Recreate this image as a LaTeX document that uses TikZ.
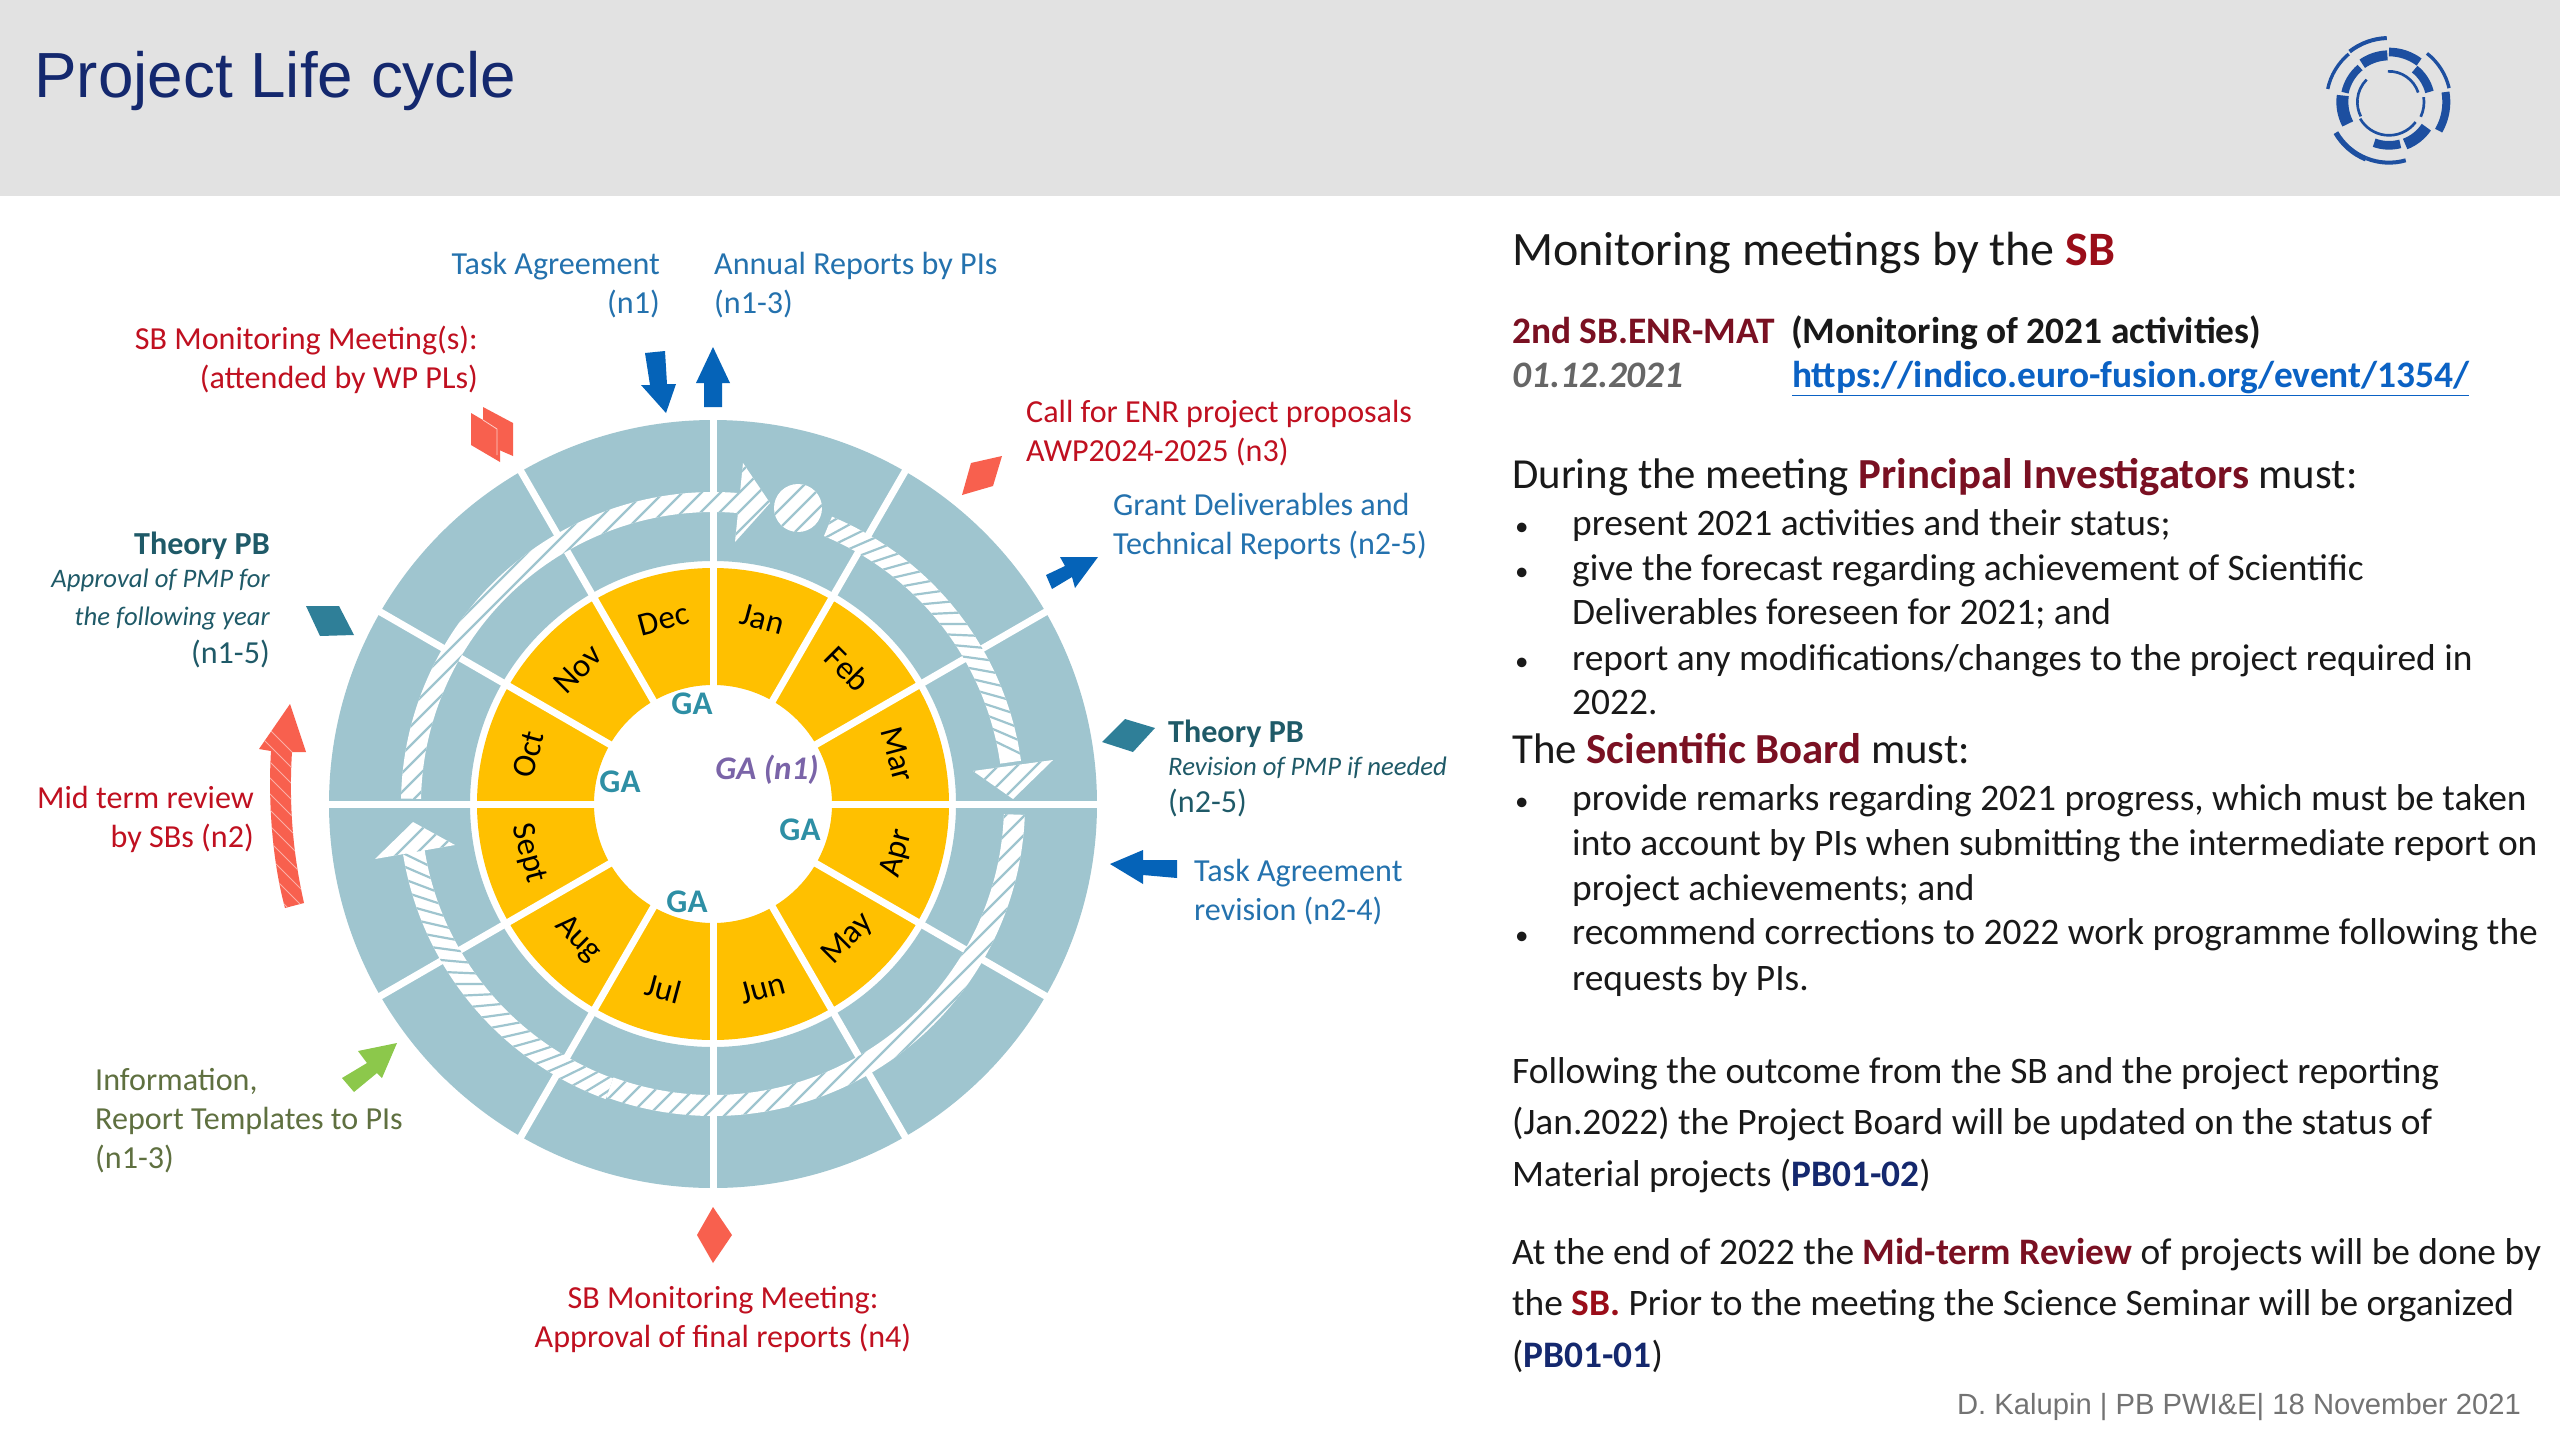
\documentclass[tikz,border=0pt]{standalone}
\usepackage{fontspec}
\setmainfont{Carlito}
\newfontfamily\arial{Liberation Sans}
\definecolor{ringc}{HTML}{9FC5CF}
\definecolor{goldc}{HTML}{FFC000}
\definecolor{salmon}{HTML}{F8604E}
\definecolor{arrowb}{HTML}{0563B8}
\definecolor{labb}{HTML}{2472AE}
\definecolor{labr}{HTML}{C01020}
\definecolor{labt}{HTML}{1F5A68}
\definecolor{labo}{HTML}{5F7040}
\definecolor{tealp}{HTML}{2F7F98}
\definecolor{gac}{HTML}{2E8FA5}
\definecolor{gap}{HTML}{7A64A8}
\definecolor{darkr}{HTML}{7A1022}
\definecolor{navy}{HTML}{14286E}
\definecolor{logoc}{HTML}{1D4FA0}
\definecolor{headg}{HTML}{E2E2E2}
\definecolor{linkc}{HTML}{0B62C4}
\definecolor{greena}{HTML}{8CC84B}
\newcommand{\dr}[1]{\textbf{\textcolor{darkr}{#1}}}
\newcommand{\nv}[1]{\textbf{\textcolor{navy}{#1}}}
\newcommand{\sect}[4]{([shift={(#1:#3)}]c) arc[start angle=#1,end angle=#2,radius=#3] -- ([shift={(#2:#4)}]c) arc[start angle=#2,end angle=#1,radius=#4] -- cycle}
\newcommand{\hatchne}{\foreach \d in {-30,...,30}{\draw[hatchl] ($(c)+(\d*19-500,-500)$) -- ($(c)+(\d*19+500,500)$);}}
\newcommand{\hatchra}[3]{\foreach \a in {#1,#2,...,#3}{\draw[hatchl] ([shift={(\a+6:280)}]c) -- ([shift={(\a:322)}]c);}}
\newcommand{\lab}[7]{\node[lbl,anchor=#2,align=#3,text=#6] (#1) at (#4,-#5+22.5) {\rule{0pt}{24pt}#7};}
\newcommand{\bodyline}[4]{\node[bodyt,anchor=base west] (#1) at (#2,-#3-1.5) {#4};}
\newcommand{\bul}[2]{\node[bulletdot,anchor=base west] (#1) at (1512,-#2-1.5) {\hspace*{3pt}•};}
\newcommand{\logoarc}[4]{\draw[logoarcs,line width=#4/3] ([shift={(#1:#3/3)}]logo) arc[start angle=#1,end angle=#2,radius=#3/3];}
\usetikzlibrary{calc}
\tikzset{
 lbl/.style={inner sep=0pt,font=\fontsize{32.1}{39}\selectfont},
 itl/.style={inner sep=0pt,font=\fontsize{26.7}{38}\selectfont\itshape},
 month/.style={inner sep=0pt,font=\fontsize{33}{38}\selectfont,text=black},
 ga/.style={inner sep=0pt,font=\fontsize{33}{38}\selectfont\bfseries,text=gac},
 bodyt/.style={inner sep=0pt,font=\fontsize{37.4}{44}\selectfont,text=black!90},
 bulletdot/.style={inner sep=0pt,font=\fontsize{27}{44}\selectfont,text=black!90},
 bodyl/.style={inner sep=0pt,font=\fontsize{42.8}{48}\selectfont,text=black!90},
 hatchl/.style={draw=ringc,line width=2.2pt},
 spoke/.style={draw=white,line width=7pt},
 redmark/.style={fill=salmon},
 tealmark/.style={fill=tealp},
 barrow/.style={fill=arrowb},
 logoarcs/.style={draw=logoc,line cap=butt},
}
\begin{document}
\begin{tikzpicture}[x=1pt,y=1pt]
\useasboundingbox (0,-1440) rectangle (2560,0);
\fill[white] (0,-1440) rectangle (2560,0);
\fill[headg] (0,-196) rectangle (2560,0);
\node[inner sep=0pt,anchor=base west,font=\fontsize{63.8}{70}\selectfont\arial,text=navy] (title) at (34,-97) {Project Life cycle};
% logo
\coordinate (logo) at (2389,-102);
\logoarc{92}{128}{192}{12}
\logoarc{130}{168}{188}{10}
\logoarc{52}{13}{185}{10}
\logoarc{10}{-30}{172}{24}
\logoarc{210}{248}{184}{16}
\logoarc{248}{286}{182}{12}
\logoarc{90}{53}{150}{26}
\logoarc{52}{14}{125}{26}
\logoarc{92}{125}{140}{30}
\logoarc{130}{168}{135}{22}
\logoarc{172}{208}{140}{36}
\logoarc{250}{285}{130}{26}
\logoarc{291}{326}{135}{34}
\logoarc{92}{18}{92}{8}
\logoarc{135}{175}{95}{8}
\logoarc{8}{-25}{105}{8}
\logoarc{-37}{-150}{100}{8}
\logoarc{175}{207}{95}{8}
% wheel
\coordinate (c) at (713,-804);
\fill[ringc,even odd rule] (c) circle[radius=384] (c) circle[radius=243];
\fill[goldc,even odd rule] (c) circle[radius=236] (c) circle[radius=119];
\foreach \a in {0,30,...,330}{\draw[spoke] ([shift={(\a:112)}]c) -- ([shift={(\a:392)}]c);}
% hatched flow
\fill[white] \sect{179}{85}{312}{292};
\begin{scope}\clip \sect{179}{85}{312}{292};\hatchne\end{scope}
\fill[white] (743,-463) -- (770,-503) -- (735,-542) -- cycle;
\begin{scope}\clip (743,-463) -- (770,-503) -- (735,-542) -- cycle;\hatchne\end{scope}
\node[circle,fill=white,minimum size=48pt,inner sep=0pt] (stage) at (798,-508) {};
\begin{scope}\clip (798,-508) circle[radius=24];\hatchne\end{scope}
\fill[white] \sect{67.5}{8}{311}{290};
\begin{scope}\clip \sect{67.5}{8}{311}{290};\hatchra{8}{10.6}{70}\end{scope}
\fill[white] (973,-771) -- (1013,-799) -- (1053,-760) -- cycle;
\begin{scope}\clip (973,-771) -- (1013,-799) -- (1053,-760) -- cycle;\hatchne\end{scope}
\fill[white] \sect{-2}{-110}{312}{291};
\begin{scope}\clip \sect{-2}{-110}{312}{291};\hatchne\end{scope}
\fill[white] \sect{-110}{-171}{314}{292};
\begin{scope}\clip \sect{-110}{-171}{314}{292};\hatchra{-172}{-169.4}{-108}\end{scope}
\fill[white] (375,-859) -- (413,-822) -- (455,-845) -- cycle;
\begin{scope}\clip (375,-859) -- (413,-822) -- (455,-845) -- cycle;\hatchne\end{scope}
% months
\foreach \n/\a/\r in {Jan/75/-15,Feb/45/-45,Mar/15/-75,Apr/-15/75,May/-45/45,Jun/-75/15,Jul/-105/-15,Aug/-135/-45,Sept/-165/-75,Oct/165/75,Nov/135/45,Dec/105/15}{
 \node[month,rotate=\r] (m\n) at ([shift={(\a:191)}]c) {\n};
}
\node[ga] (ga1) at (692,-704) {GA};
\node[ga] (ga2) at (620,-782) {GA};
\node[ga] (ga3) at (800,-830) {GA};
\node[ga] (ga4) at (687,-902) {GA};
\node[ga,text=gap,font=\fontsize{33}{38}\selectfont\bfseries\itshape] (ga5) at (767,-770) {GA (n1)};
% symbols
\fill[barrow] (645,-353) -- (665,-351) -- (667,-384) -- (676,-384) -- (666,-413) -- (641,-385) -- (650,-385) -- cycle;
\fill[barrow] (713,-347) -- (730,-383) -- (722,-383) -- (722,-407) -- (704,-407) -- (704,-383) -- (696,-383) -- cycle;
\fill[redmark] (483,-407) -- (513,-423) -- (513,-456) -- (483,-443) -- cycle;
\fill[redmark] (471,-413) -- (500,-430) -- (500,-462) -- (471,-445) -- cycle;
\draw[white!70!salmon,line width=.8pt] (483,-420) -- (497,-429) -- (497,-455);
\fill[redmark] (1002,-456) -- (993,-486) -- (962,-495) -- (971,-463) -- cycle;
\fill[barrow] (1098,-557) -- (1060,-557) -- (1065,-566) -- (1046,-575) -- (1052,-589) -- (1072,-577) -- (1075,-588) -- cycle;
\fill[tealmark] (306,-606) -- (339,-606) -- (354,-635) -- (320,-636) -- cycle;
\fill[tealmark] (1125,-719) -- (1155,-728) -- (1133,-752) -- (1102,-742) -- cycle;
\fill[barrow] (1110,-864) -- (1143,-850) -- (1143,-860) -- (1177,-860) -- (1177,-878) -- (1143,-875) -- (1143,-884) -- cycle;
\fill[redmark] (290,-704) -- (306,-752) -- (292,-752) .. controls (289,-800) and (292,-850) .. (304,-903) -- (285,-908) .. controls (272,-860) and (268,-800) .. (271,-751) -- (259,-749) -- cycle;
\begin{scope}
\clip (290,-704) -- (306,-752) -- (292,-752) .. controls (289,-800) and (292,-850) .. (304,-903) -- (285,-908) .. controls (272,-860) and (268,-800) .. (271,-751) -- (259,-749) -- cycle;
\foreach \d in {0,...,14}{\draw[white!50!salmon,line width=1pt] (240,-700-\d*16) -- (320,-780-\d*16);}
\end{scope}
\fill[greena] (397,-1043) -- (358,-1051) -- (367,-1063) -- (342,-1078) -- (354,-1092) -- (377,-1073) -- (382,-1078) -- cycle;
\fill[redmark] (713,-1207) -- (732,-1235) -- (713,-1263) -- (697,-1235) -- cycle;
% labels
\lab{l1}{north east}{right}{660}{273}{labb}{Task Agreement\\(n1)}
\lab{l2}{north west}{left}{714}{273}{labb}{Annual Reports by PIs\\(n1-3)}
\lab{l3}{north east}{right}{478}{348}{labr}{SB Monitoring Meeting(s):\\(attended by WP PLs)}
\lab{l4}{north west}{left}{1026}{421}{labr}{Call for ENR project proposals\\AWP2024-2025 (n3)}
\lab{l5}{north west}{left}{1113}{514}{labb}{Grant Deliverables and\\Technical Reports (n2-5)}
\node[lbl,anchor=base east,text=labt,font=\fontsize{32.1}{39}\selectfont\bfseries] (l6) at (270,-554) {Theory PB};
\node[itl,anchor=base east,align=right,text=labt] (l7) at (270,-587) {Approval of PMP for};
\node[itl,anchor=base east,align=right,text=labt] (l7b) at (270,-625) {the following year};
\node[lbl,anchor=base east,text=labt] (l8) at (270,-663) {(n1-5)};
\node[lbl,anchor=base west,text=labt,font=\fontsize{32.1}{39}\selectfont\bfseries] (l9) at (1168,-742) {Theory PB};
\node[itl,anchor=base west,text=labt] (l10) at (1168,-775) {Revision of PMP if needed};
\node[lbl,anchor=base west,text=labt] (l11) at (1168,-812) {(n2-5)};
\lab{l12}{north west}{left}{1194}{880}{labb}{Task Agreement\\revision (n2-4)}
\lab{l13}{north east}{right}{254}{807}{labr}{Mid term review\\by SBs (n2)}
\lab{l14}{north west}{left}{95}{1089}{labo}{Information,\\Report Templates to PIs\\(n1-3)}
\lab{l15}{north}{center}{723}{1307}{labr}{SB Monitoring Meeting:\\Approval of final reports (n4)}
% right panel
\node[inner sep=0pt,anchor=base west,font=\fontsize{48}{54}\selectfont,text=black!90] (h1) at (1512,-265) {Monitoring meetings by the \textbf{\textcolor{labr!80!black}{SB}}};
\node[bodyt,anchor=base west] (b1) at (1512,-343) {\dr{2nd SB.ENR-MAT}};
\node[bodyt,anchor=base west] (b2) at (1791,-343) {\textbf{(Monitoring of 2021 activities)}};
\node[bodyt,anchor=base west,text=black!60] (b3) at (1512,-387) {\textbf{\textit{01.12.2021}}};
\node[bodyt,anchor=base west,text=linkc] (b4) at (1792,-387) {\textbf{\underline{https://indico.euro-fusion.org/event/1354/}}};
\node[bodyl,anchor=base west] (b5) at (1512,-488) {During the meeting \dr{Principal Investigators} must:};
\bul{d1}{534}\bodyline{t1}{1572}{534}{present 2021 activities and their status;}
\bul{d2}{579}\bodyline{t2}{1572}{579}{give the forecast regarding achievement of Scientific}
\bodyline{t3}{1572}{623}{Deliverables foreseen for 2021; and}
\bul{d3}{669}\bodyline{t4}{1572}{669}{report any modifications/changes to the project required in}
\bodyline{t5}{1572}{713}{2022.}
\node[bodyl,anchor=base west] (b6) at (1512,-763) {The \dr{Scientific Board} must:};
\bul{d4}{809}\bodyline{t6}{1572}{809}{provide remarks regarding 2021 progress, which must be taken}
\bodyline{t7}{1572}{854}{into account by PIs when submitting the intermediate report on}
\bodyline{t8}{1572}{899}{project achievements; and}
\bul{d5}{943}\bodyline{t9}{1572}{943}{recommend corrections to 2022 work programme following the}
\bodyline{t10}{1572}{989}{requests by PIs.}
\bodyline{p1}{1512}{1082}{Following the outcome from the SB and the project reporting}
\bodyline{p2}{1512}{1133}{(Jan.2022) the Project Board will be updated on the status of}
\bodyline{p3}{1512}{1185}{Material projects (\nv{PB01-02})}
\bodyline{p4}{1512}{1263}{At the end of 2022 the \dr{Mid-term Review} of projects will be done by}
\bodyline{p5}{1512}{1314}{the \textbf{\textcolor{labr!80!black}{SB.}} Prior to the meeting the Science Seminar will be organized}
\bodyline{p6}{1512}{1366}{(\nv{PB01-01})}
\node[inner sep=0pt,anchor=base east,font=\fontsize{29.2}{36}\selectfont\arial,text=black!55] (foot) at (2521,-1414) {D. Kalupin | PB PWI\&E| 18 November 2021};
\end{tikzpicture}
\end{document}
